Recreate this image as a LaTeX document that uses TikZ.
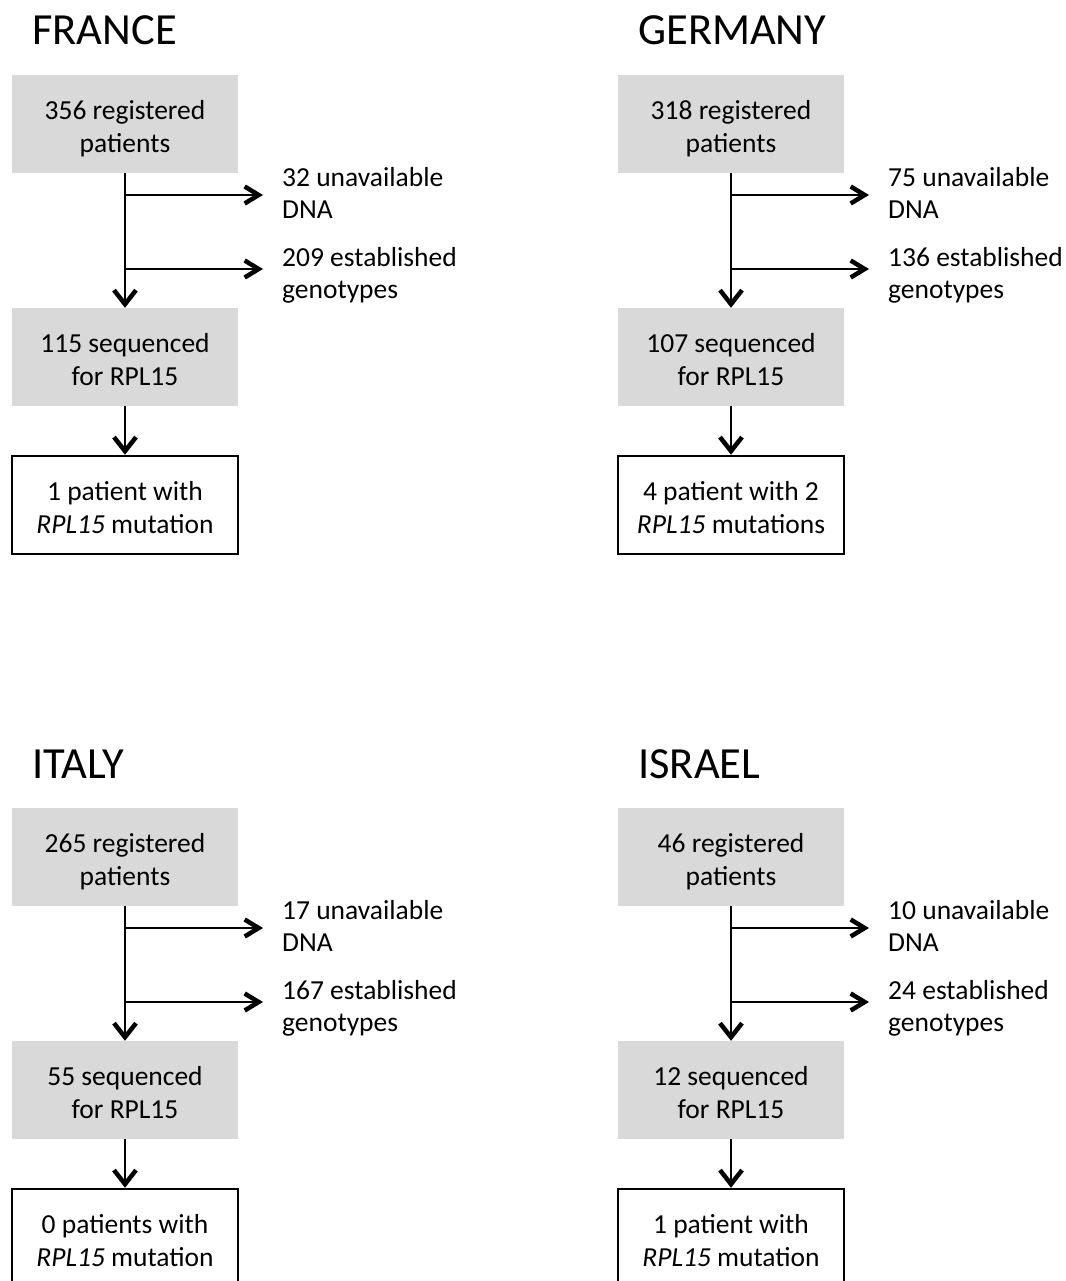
\documentclass[tikz,border=0pt]{standalone}
\usepackage{fontspec}
\setmainfont{Carlito}
\usetikzlibrary{arrows.meta}
\definecolor{boxgray}{RGB}{217,217,217}
\newcommand{\twolines}[2]{\begin{tabular}{@{}c@{}}\rule{0pt}{33.75pt}#1\\#2\end{tabular}}
\newcommand{\twoleft}[2]{\begin{tabular}{@{}l@{}}#1\\#2\end{tabular}}
\tikzset{
  bodyfont/.style={font=\fontsize{27.5}{32.5}\selectfont},
  graybox/.style={bodyfont, fill=boxgray, minimum width=226pt, minimum height=98pt, inner sep=0pt},
  whitebox/.style={bodyfont, draw=black, line width=2.5pt, fill=white, minimum width=226pt, minimum height=98pt, inner sep=0pt},
  sidetext/.style={font=\fontsize{27.5}{31.5}\selectfont, anchor=west, inner sep=0pt},
  titletext/.style={anchor=base west, inner sep=0pt, font=\fontsize{44.5}{50}\selectfont},
  flowline/.style={line width=2pt},
  downarrow/.style={flowline, -{Straight Barb[length=14pt, width=22pt, line width=4.5pt]}},
  sidearrow/.style={flowline, -{Straight Barb[length=14pt, width=17pt, line width=4.5pt]}},
}
\newcommand{\flowpanel}[9]{%
  \begin{scope}[shift={(#2,#3)}]
    \node[titletext] (#1t) at (32,45) {#4};
    \node[graybox] (#1a) at (125,124) {\twolines{#5 registered}{patients}};
    \node[graybox] (#1b) at (125,357) {\twolines{#8 sequenced}{for RPL15}};
    \node[whitebox] (#1c) at (125,505) {#9};
    \node[sidetext] (#1s) at (282,196) {\twoleft{#6 unavailable}{DNA}};
    \node[sidetext] (#1u) at (282,276) {\twoleft{#7 established}{genotypes}};
    \coordinate (#1j) at (125,195);
    \coordinate (#1k) at (125,269);
    \coordinate (#1m) at (263,195);
    \coordinate (#1n) at (263,269);
    \draw[downarrow] (#1a.south) -- (#1b.north);
    \draw[sidearrow] (#1j) -- (#1m);
    \draw[sidearrow] (#1k) -- (#1n);
    \draw[downarrow] (#1b.south) -- (#1c.north);
  \end{scope}}
\begin{document}
\begin{tikzpicture}[x=1pt, y=-1pt]
\useasboundingbox (0,0) rectangle (1065,1281);
\clip (0,0) rectangle (1065,1281);
\flowpanel{fr}{0}{0}{FRANCE}{356}{32}{209}{115}{\twolines{1 patient with}{\textit{RPL15} mutation}}
\flowpanel{de}{606}{0}{GERMANY}{318}{75}{136}{107}{\twolines{4 patient with 2}{\textit{RPL15} mutations}}
\flowpanel{it}{0}{733}{ITALY}{265}{17}{167}{55}{\twolines{0 patients with}{\textit{RPL15} mutation}}
\flowpanel{il}{606}{733}{ISRAEL}{46}{10}{24}{12}{\twolines{1 patient with}{\textit{RPL15} mutation}}
\end{tikzpicture}
\end{document}
